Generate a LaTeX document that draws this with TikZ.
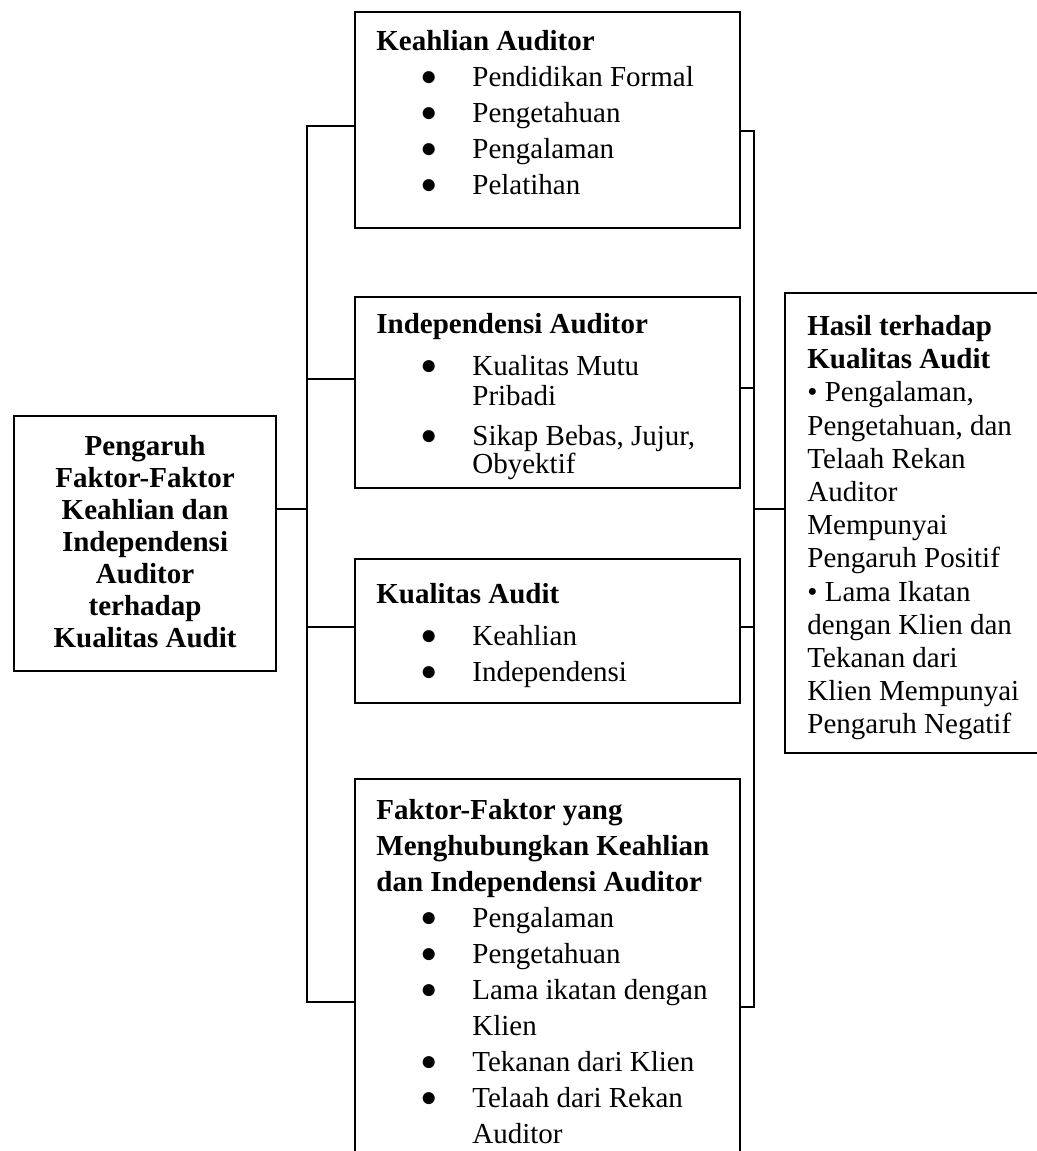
\documentclass[tikz,border=0pt]{standalone}
\usepackage{fontspec}
\setmainfont{Liberation Serif}
\usetikzlibrary{positioning}

\newcommand{\bul}{\raisebox{0.3pt}{\fontsize{14}{14}\selectfont ●}}
\newcommand{\butir}[1]{\makebox[48pt][l]{\hspace{22pt}\bul}#1}
\newcommand{\lanjut}[1]{\hspace*{48pt}#1}

\tikzset{
  kotak/.style={draw, line width=1.1pt, rectangle, anchor=north west, minimum width=192.5pt, inner sep=0pt},
  isi/.style={align=left, inner sep=0pt, font=\fontsize{14.5}{18}\selectfont},
  garis/.style={line width=1pt}
}

\begin{document}
\begin{tikzpicture}[x=0.5pt, y=-0.5pt]
        \useasboundingbox (0,0) rectangle (1037,1151);
        \clip (0,0) rectangle (1037,1151);

        \node[kotak, minimum width=131pt, minimum height=127.5pt] (pengaruh) at (13,415) {};
        \node[kotak, minimum height=108pt] (k1) at (354,11) {};
        \node[kotak, minimum height=95.5pt] (k2) at (354,296) {};
        \node[kotak, minimum height=72pt] (k3) at (354,558) {};
        \node[kotak, minimum height=201pt] (k4) at (354,778) {};
        \node[kotak, minimum width=150pt, minimum height=230pt] (hasil) at (784,292) {};

        \node[isi, align=center, font=\fontsize{14.5}{16}\selectfont\bfseries, anchor=north, below=10pt of pengaruh.north] (pengaruhisi)
            {Pengaruh\\Faktor-Faktor\\Keahlian dan\\Independensi\\Auditor\\terhadap\\Kualitas Audit};

        \node[isi, below right=9.5pt and 11pt of k1.north west] (k1isi)
            {\textbf{Keahlian Auditor}\\ \butir{Pendidikan Formal}\\ \butir{Pengetahuan}\\ \butir{Pengalaman}\\ \butir{Pelatihan}};
        \node[isi, below right=8.5pt and 11pt of k2.north west] (k2isi)
            {\textbf{Independensi Auditor}\\[3pt] \butir{Kualitas Mutu}\\[-3pt] \lanjut{Pribadi}\\[2pt] \butir{Sikap Bebas, Jujur,}\\[-4pt] \lanjut{Obyektif}};
        \node[isi, below right=12.5pt and 11pt of k3.north west] (k3isi)
            {\textbf{Kualitas Audit}\\[3pt] \butir{Keahlian}\\ \butir{Independensi}};
        \node[isi, below right=10.5pt and 11pt of k4.north west] (k4isi)
            {\textbf{Faktor-Faktor yang}\\ \textbf{Menghubungkan Keahlian}\\ \textbf{dan Independensi Auditor}\\
             \butir{Pengalaman}\\ \butir{Pengetahuan}\\ \butir{Lama ikatan dengan}\\ \lanjut{Klien}\\
             \butir{Tekanan dari Klien}\\ \butir{Telaah dari Rekan}\\ \lanjut{Auditor}};
        \node[isi, font=\fontsize{14.5}{16.6}\selectfont, below right=11.5pt and 11.5pt of hasil.north west] (hasilisi)
            {\textbf{Hasil terhadap}\\ \textbf{Kualitas Audit}\\ \textbullet{} Pengalaman,\\ Pengetahuan, dan\\ Telaah Rekan\\ Auditor\\
             Mempunyai\\ Pengaruh Positif\\ \textbullet{} Lama Ikatan\\ dengan Klien dan\\ Tekanan dari\\ Klien Mempunyai\\ Pengaruh Negatif};

        % titik cabang
        \coordinate (kiri1) at (307,126);
        \coordinate (kiri2) at (307,379);
        \coordinate (kiri0) at (307,509);
        \coordinate (kiri3) at (307,627);
        \coordinate (kiri4) at (307,1002);
        \coordinate (kanan1) at (754,131);
        \coordinate (kanan2) at (754,388);
        \coordinate (kanan0) at (754,509);
        \coordinate (kanan3) at (754,627);
        \coordinate (kanan4) at (754,1007);

        \draw[garis] (k1.west |- kiri1) -- (kiri1) -- (kiri4) -- (k4.west |- kiri4);
        \draw[garis] (pengaruh.east |- kiri0) -- (kiri0);
        \draw[garis] (k2.west |- kiri2) -- (kiri2);
        \draw[garis] (k3.west |- kiri3) -- (kiri3);

        \draw[garis] (k1.east |- kanan1) -- (kanan1) -- (kanan4) -- (k4.east |- kanan4);
        \draw[garis] (k2.east |- kanan2) -- (kanan2);
        \draw[garis] (k3.east |- kanan3) -- (kanan3);
        \draw[garis] (kanan0) -- (hasil.west |- kanan0);
    \end{tikzpicture}
\end{document}
